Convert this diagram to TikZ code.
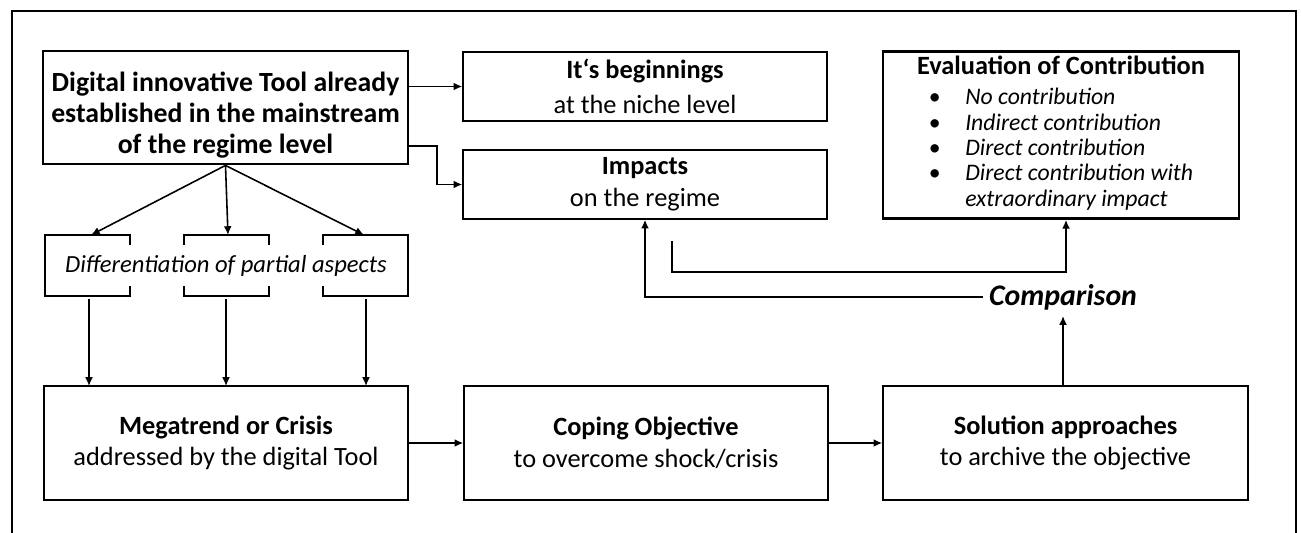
\documentclass[tikz,border=0pt]{standalone}
\usepackage{fontspec}
\setmainfont{Carlito}
\usetikzlibrary{arrows.meta}

\begin{document}
\begin{tikzpicture}[
    box/.style={draw=black, line width=0.8pt, inner sep=2pt, align=center,
                font=\fontsize{15}{18}\selectfont},
    bigbox/.style={box, line width=1.6pt},
    arr/.style={-{Latex[length=5pt,width=4.5pt]}, line width=0.9pt},
    bracketline/.style={line width=0.8pt},
]
    \useasboundingbox (0,0) rectangle (26.02,10.66);

    % Outer frame (open at the bottom)
    \draw[line width=0.9pt] (0.24,0) -- (0.24,10.44) -- (25.92,10.44) -- (25.92,0);

    % Upper row
    \node[bigbox, minimum width=7.3cm, minimum height=2.26cm, font=\fontsize{15.8}{17.6}\selectfont] (tool) at (4.51,8.51)
      {\rule{0pt}{20pt}\textbf{Digital innovative Tool already}\\\textbf{established in the mainstream}\\\textbf{of the regime level}};
    \node[box, minimum width=7.28cm, minimum height=1.38cm] (begin) at (12.9,8.93)
      {\textbf{It‘s beginnings}\\[2pt]at the niche level};
    \node[box, minimum width=7.28cm, minimum height=1.38cm] (impact) at (12.9,6.97)
      {\textbf{Impacts}\\on the regime};
    \node[bigbox, minimum width=7.12cm, minimum height=3.34cm] (eval) at (21.22,7.96)
      {{\fontsize{15}{16}\selectfont\textbf{Evaluation of Contribution}}\\[-1pt]
       {\fontsize{13.5}{14.4}\selectfont
       \begin{tabular}[t]{@{}l@{\hspace{14pt}}l@{}}
         \textbullet & \textit{No contribution}\\
         \textbullet & \textit{Indirect contribution}\\
         \textbullet & \textit{Direct contribution}\\
         \textbullet & \textit{Direct contribution with}\\
                     & \textit{extraordinary impact}
       \end{tabular}}};

    % Partial aspects with brackets
    \node[font=\fontsize{14}{16}\selectfont\itshape] (diff) at (4.52,5.34) {Differentiation of partial aspects};
    \draw[bracketline] (2.6,5.76) -- (2.6,5.96) -- (0.9,5.96) -- (0.9,4.74) -- (2.6,4.74) -- (2.6,4.94);
    \draw[bracketline] (3.68,5.76) -- (3.68,5.96) -- (5.38,5.96) -- (5.38,5.76);
    \draw[bracketline] (3.68,4.94) -- (3.68,4.74) -- (5.38,4.74) -- (5.38,4.94);
    \draw[bracketline] (6.46,5.76) -- (6.46,5.96) -- (8.16,5.96) -- (8.16,4.74) -- (6.46,4.74) -- (6.46,4.94);
    \coordinate (aspA) at (1.82,5.96);
    \coordinate (aspB) at (4.56,5.96);
    \coordinate (aspC) at (7.28,5.96);

    % Lower row
    \node[box, minimum width=7.28cm, minimum height=2.28cm] (mega) at (4.52,1.8)
      {\textbf{Megatrend or Crisis}\\addressed by the digital Tool};
    \node[box, minimum width=7.28cm, minimum height=2.28cm] (coping) at (12.92,1.8)
      {\textbf{Coping Objective}\\to overcome shock/crisis};
    \node[box, minimum width=7.3cm, minimum height=2.28cm] (solution) at (21.31,1.8)
      {\textbf{Solution approaches}\\to archive the objective};

    \node[font=\fontsize{17}{20}\selectfont\bfseries\itshape] (comp) at (21.26,4.72) {Comparison};

    % Connectors from the tool
    \draw[arr] (tool.east |- begin.west) -- (begin.west);
    \coordinate (elbow) at (8.74,7.74);
    \draw[arr] (tool.east |- elbow) -- (elbow) |- (impact.west);
    \foreach \t in {aspA,aspB,aspC}
      \draw[arr] (tool.south) -- (\t);

    % Down to the megatrend
    \foreach \x in {1.78,4.52,7.32}
      \draw[arr] (\x,4.68) -- (\x,2.94);

    % Along the bottom
    \draw[arr] (mega.east) -- (coping.west);
    \draw[arr] (coping.east) -- (solution.west);

    % Comparison feedback
    \draw[arr] (solution.north -| comp.south) -- (comp.south);
    \draw[arr] (comp.west) -| (impact.south);
    \coordinate (fbstart) at (13.44,5.84);
    \coordinate (fbturn) at (21.32,5.22);
    \draw[arr] (fbstart) |- (fbturn) -- (fbturn |- eval.south);
\end{tikzpicture}
\end{document}
